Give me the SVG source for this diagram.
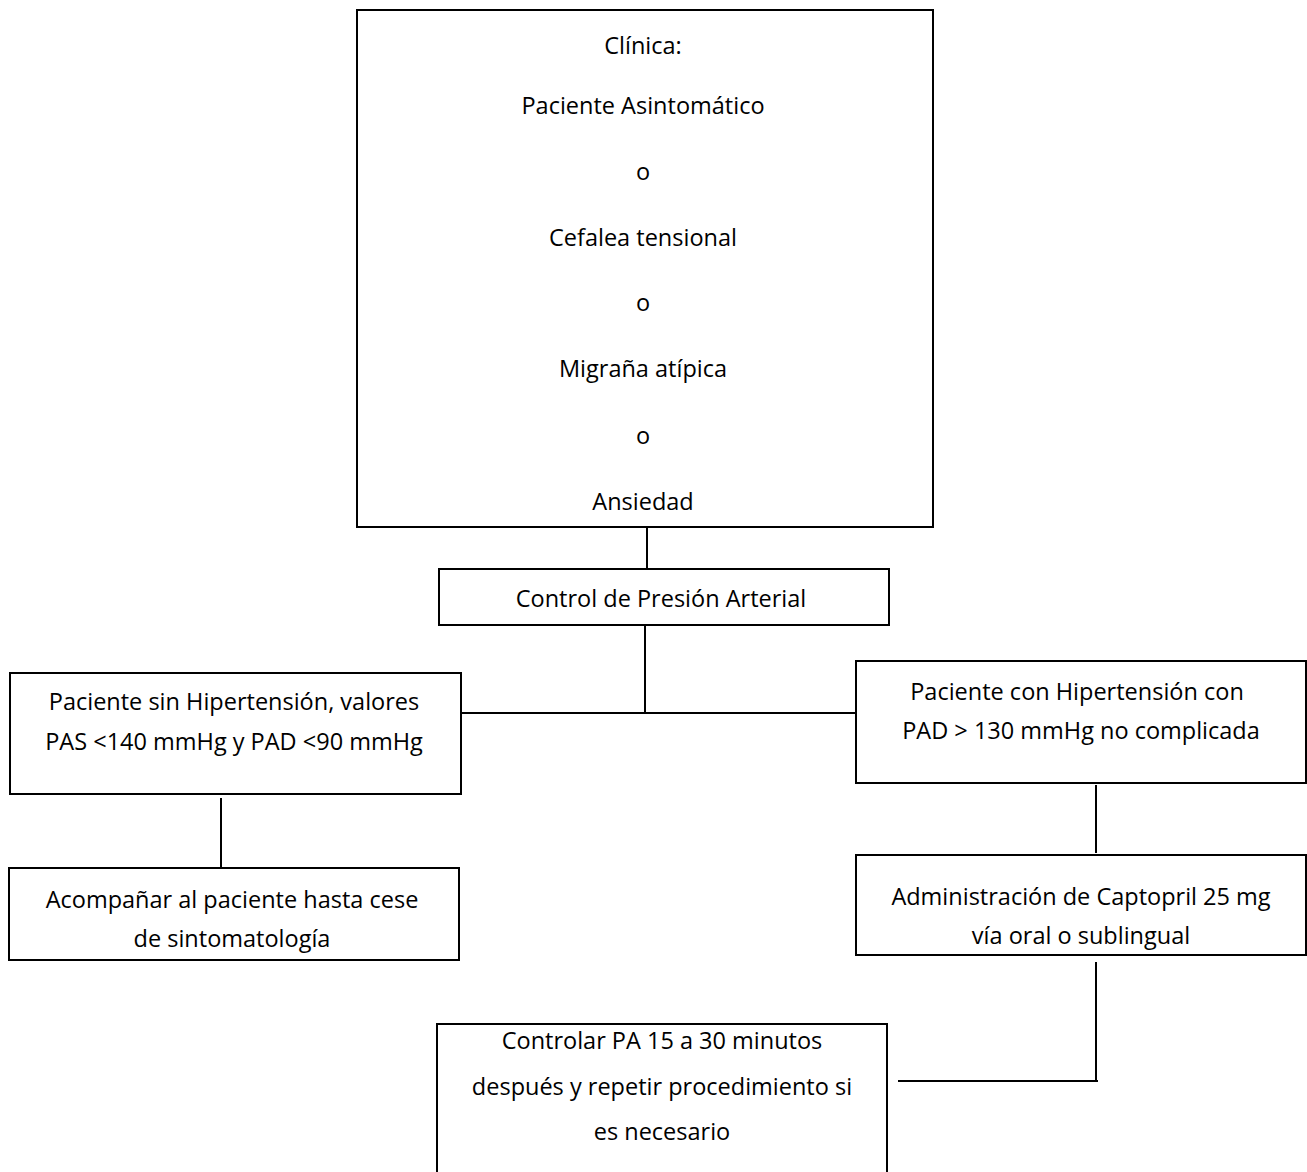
<svg xmlns="http://www.w3.org/2000/svg" width="1307" height="1172" viewBox="0 0 1307 1172">
<style>
.box{fill:#fff;stroke:#000;stroke-width:2}
.ln{stroke:#000;stroke-width:2;fill:none}
text{font-family:"Open Sans","Liberation Sans",sans-serif;font-size:23.5px;fill:#000;text-anchor:middle;dominant-baseline:central}
</style>
<rect width="1307" height="1172" fill="#fff"/>
<g id="connectors">
<line class="ln" x1="647" y1="527" x2="647" y2="569"/>
<line class="ln" x1="645" y1="625" x2="645" y2="713"/>
<line class="ln" x1="462" y1="713" x2="862" y2="713"/>
<line class="ln" x1="221" y1="798" x2="221" y2="867"/>
<line class="ln" x1="1096" y1="785" x2="1096" y2="853"/>
<line class="ln" x1="1096" y1="962" x2="1096" y2="1082"/>
<line class="ln" x1="898" y1="1081" x2="1098" y2="1081"/>
</g>
<g id="clinica">
<rect class="box" x="357" y="10" width="576" height="517"/>
<text x="643" y="45">Clínica:</text>
<text x="643" y="105">Paciente  Asintomático</text>
<text x="643" y="171">o</text>
<text x="643" y="237">Cefalea tensional</text>
<text x="643" y="302">o</text>
<text x="643" y="368">Migraña atípica</text>
<text x="643" y="435">o</text>
<text x="643" y="501">Ansiedad</text>
</g>
<g id="control">
<rect class="box" x="439" y="569" width="450" height="56"/>
<text x="661" y="598">Control de Presión Arterial</text>
</g>
<g id="sin-hipertension">
<rect class="box" x="10" y="673" width="451" height="121"/>
<text x="234" y="701">Paciente sin Hipertensión, valores</text>
<text x="234" y="741">PAS &lt;140 mmHg y PAD &lt;90 mmHg</text>
</g>
<g id="con-hipertension">
<rect class="box" x="856" y="661" width="450" height="122"/>
<text x="1077" y="691">Paciente con Hipertensión con</text>
<text x="1081" y="730">PAD &gt; 130 mmHg no complicada</text>
</g>
<g id="acompanar">
<rect class="box" x="9" y="868" width="450" height="92"/>
<text x="232" y="899">Acompañar al paciente hasta cese</text>
<text x="232" y="938">de sintomatología</text>
</g>
<g id="captopril">
<rect class="box" x="856" y="855" width="450" height="100"/>
<text x="1081" y="896">Administración de Captopril 25 mg</text>
<text x="1081" y="935">vía oral o sublingual</text>
</g>
<g id="controlar">
<rect class="box" x="437" y="1024" width="450" height="160"/>
<text x="662" y="1040">Controlar PA 15 a 30 minutos</text>
<text x="662" y="1086">después y repetir procedimiento si</text>
<text x="662" y="1131">es necesario</text>
</g>
</svg>
